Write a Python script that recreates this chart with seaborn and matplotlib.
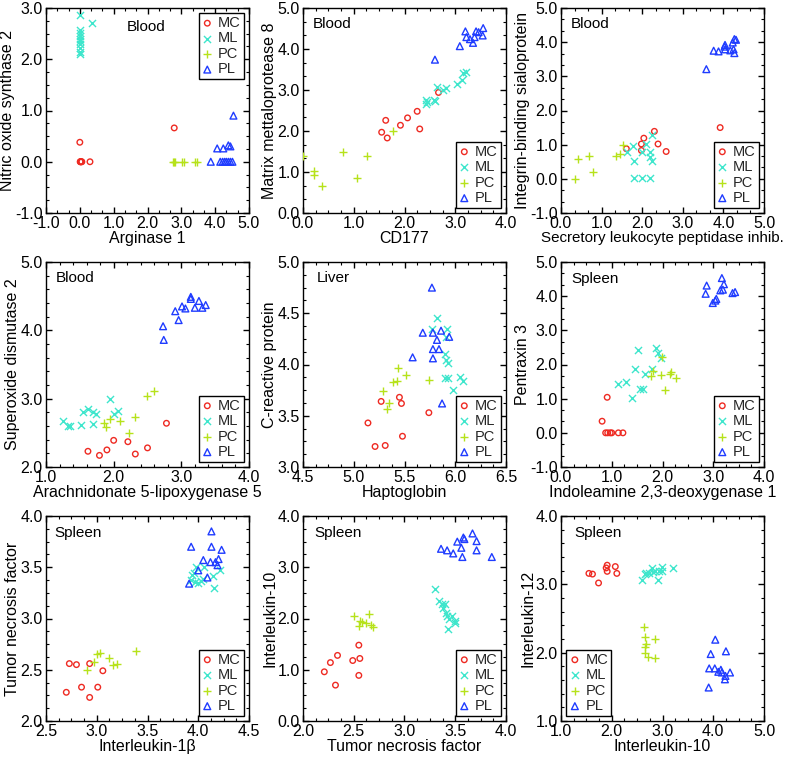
import numpy as np
import pandas as pd
import matplotlib
matplotlib.use("Agg")
import matplotlib.pyplot as plt
from matplotlib.ticker import MultipleLocator, AutoMinorLocator, FormatStrFormatter
import seaborn as sns

# ---------------- data ----------------
GROUPS = ["MC", "ML", "PC", "PL"]

# Panel 1: Arginase 1 vs Nitric oxide synthase 2 (Blood)
P1_MC_X = [0.0, 0.02, 0.04, 0.06, 0.03, 0.3, 2.79, 0.01]
P1_MC_Y = [0.38, 0.0, 0.0, 0.0, 0.0, 0.0, 0.66, 0.0]
P1_ML_X = [0.0, 0.0, 0.0, 0.0, 0.0, 0.0, 0.0, 0.0, 0.0, 0.0, 0.35]
P1_ML_Y = [2.86, 2.58, 2.52, 2.45, 2.4, 2.35, 2.3, 2.22, 2.15, 2.1, 2.71]
P1_PC_X = [2.76, 2.82, 3.03, 3.09, 3.41, 3.47, 2.79]
P1_PC_Y = [0.0, 0.0, 0.0, 0.0, 0.0, 0.0, 0.0]
P1_PL_X = [3.87, 4.15, 4.22, 4.28, 4.33, 4.39, 4.45, 4.51, 4.06, 4.24, 4.39, 4.45, 4.54]
P1_PL_Y = [0.0, 0.0, 0.0, 0.0, 0.0, 0.0, 0.0, 0.0, 0.26, 0.26, 0.32, 0.3, 0.9]

# Panel 2: CD177 vs Matrix metalloprotease 8 (Blood)
P2_MC_X = [1.55, 1.63, 1.66, 1.92, 2.06, 2.25, 2.3, 2.67]
P2_MC_Y = [1.97, 2.26, 1.83, 2.14, 2.32, 2.48, 2.05, 2.94]
P2_ML_X = [2.42, 2.42, 2.45, 2.59, 2.61, 2.64, 2.76, 2.82, 3.03, 3.13, 3.15, 3.22]
P2_ML_Y = [2.76, 2.67, 2.71, 2.76, 2.72, 3.07, 2.99, 3.05, 3.15, 3.25, 3.41, 3.43]
P2_PC_X = [0.0, 0.21, 0.21, 0.37, 0.78, 1.07, 1.27, 1.78]
P2_PC_Y = [1.4, 1.02, 0.93, 0.67, 1.5, 0.85, 1.38, 1.99]
P2_PL_X = [2.6, 3.09, 3.2, 3.22, 3.29, 3.35, 3.38, 3.41, 3.46, 3.54, 3.55]
P2_PL_Y = [3.74, 4.07, 4.43, 4.29, 4.24, 4.15, 4.29, 4.43, 4.41, 4.33, 4.51]

# Panel 3: SLPI vs Integrin-binding sialoprotein (Blood)
P3_MC_X = [1.61, 1.98, 1.98, 2.04, 2.3, 2.39, 2.59, 3.92]
P3_MC_Y = [0.88, 0.83, 1.02, 1.19, 1.39, 1.02, 0.8, 1.5]
P3_ML_X = [1.62, 1.78, 1.8, 1.8, 2.0, 2.0, 2.1, 2.18, 2.19, 2.19, 2.25, 2.23]
P3_ML_Y = [0.78, 0.95, 0.51, 0.02, 0.02, 0.8, 1.02, 0.8, 0.65, 0.02, 0.51, 1.29]
P3_PC_X = [0.34, 0.42, 0.7, 0.78, 1.35, 1.45, 1.52]
P3_PC_Y = [0.0, 0.59, 0.67, 0.2, 0.68, 0.73, 1.0]
P3_PL_X = [3.58, 3.76, 3.88, 4.03, 4.04, 4.04, 4.17, 4.23, 4.25, 4.27, 4.27, 4.31]
P3_PL_Y = [3.21, 3.75, 3.73, 3.87, 3.79, 3.92, 3.76, 3.99, 3.79, 3.68, 4.09, 4.07]

# Panel 4: ALOX5 vs Superoxide dismutase 2 (Blood)
P4_MC_X = [1.62, 1.79, 1.9, 2.0, 2.21, 2.32, 2.5, 2.78]
P4_MC_Y = [2.23, 2.17, 2.25, 2.39, 2.37, 2.19, 2.28, 2.64]
P4_ML_X = [1.25, 1.32, 1.35, 1.51, 1.55, 1.62, 1.69, 1.74, 1.7, 1.94, 2.0, 2.07]
P4_ML_Y = [2.67, 2.6, 2.6, 2.62, 2.8, 2.85, 2.8, 2.77, 2.63, 2.99, 2.78, 2.82]
P4_PC_X = [1.86, 1.89, 1.95, 2.09, 2.23, 2.32, 2.49, 2.6]
P4_PC_Y = [2.65, 2.58, 2.7, 2.68, 2.5, 2.73, 3.04, 3.11]
P4_PL_X = [2.73, 2.74, 2.91, 2.96, 3.01, 3.06, 3.14, 3.14, 3.2, 3.26, 3.31, 3.36]
P4_PL_Y = [4.06, 3.86, 4.28, 4.15, 4.35, 4.32, 4.49, 4.46, 4.33, 4.43, 4.33, 4.37]

# Panel 5: Haptoglobin vs C-reactive protein (Liver)
P5_MC_X = [5.14, 5.21, 5.27, 5.31, 5.45, 5.47, 5.48, 5.74]
P5_MC_Y = [3.43, 3.2, 3.64, 3.21, 3.68, 3.62, 3.3, 3.53]
P5_ML_X = [5.77, 5.82, 5.9, 5.91, 5.91, 5.92, 5.93, 5.9, 5.93, 5.98, 6.05, 6.08]
P5_ML_Y = [4.35, 4.45, 4.1, 4.04, 4.27, 4.35, 4.01, 3.87, 3.87, 3.75, 3.88, 3.84]
P5_PC_X = [5.29, 5.33, 5.35, 5.39, 5.43, 5.44, 5.51, 5.74]
P5_PC_Y = [3.74, 3.57, 3.62, 3.83, 3.84, 3.97, 3.9, 3.85]
P5_PL_X = [5.58, 5.68, 5.77, 5.78, 5.78, 5.78, 5.82, 5.84, 5.86, 5.87, 5.94]
P5_PL_Y = [4.07, 4.31, 4.75, 4.31, 4.15, 4.06, 4.24, 4.15, 4.33, 3.62, 4.27]

# Panel 6: IDO1 vs Pentraxin 3 (Spleen)
P6_MC_X = [0.81, 0.91, 0.88, 0.92, 0.97, 1.0, 1.13, 1.22]
P6_MC_Y = [0.34, 1.04, 0.0, 0.0, 0.0, 0.0, 0.0, 0.0]
P6_ML_X = [1.12, 1.28, 1.39, 1.45, 1.52, 1.55, 1.61, 1.65, 1.8, 1.87, 1.91, 1.98]
P6_ML_Y = [1.43, 1.48, 1.01, 1.87, 2.41, 1.29, 1.29, 1.73, 1.87, 2.48, 2.34, 2.19]
P6_PC_X = [1.78, 1.81, 1.98, 1.99, 2.04, 2.14, 2.17, 2.27]
P6_PC_Y = [1.66, 1.82, 1.68, 2.21, 1.26, 1.73, 1.78, 1.61]
P6_PL_X = [2.87, 2.85, 2.99, 3.04, 3.06, 3.14, 3.17, 3.19, 3.21, 3.38, 3.43]
P6_PL_Y = [4.31, 4.07, 3.8, 3.87, 3.92, 4.17, 4.53, 4.19, 4.35, 4.09, 4.12]

# Panel 7: IL-1beta vs TNF (Spleen)
P7_MC_X = [2.7, 2.73, 2.8, 2.85, 2.93, 2.93, 3.01, 3.06]
P7_MC_Y = [2.28, 2.56, 2.55, 2.33, 2.56, 2.23, 2.33, 2.49]
P7_ML_X = [3.93, 3.94, 3.96, 3.98, 4.0, 4.03, 4.05, 4.06, 4.15, 4.16, 4.21, 3.97]
P7_ML_Y = [3.38, 3.42, 3.44, 3.5, 3.35, 3.37, 3.39, 3.5, 3.41, 3.3, 3.47, 3.36]
P7_PC_X = [2.9, 2.97, 3.0, 3.03, 3.12, 3.16, 3.2, 3.39]
P7_PC_Y = [2.5, 2.58, 2.65, 2.66, 2.61, 2.55, 2.56, 2.68]
P7_PL_X = [3.91, 3.93, 4.0, 4.05, 4.09, 4.12, 4.13, 4.13, 4.17, 4.19, 4.2, 4.23]
P7_PL_Y = [3.34, 3.7, 3.47, 3.57, 3.4, 3.55, 3.85, 3.7, 3.55, 3.52, 3.58, 3.67]

# Panel 8: TNF vs IL-10 (Spleen)
P8_MC_X = [2.21, 2.27, 2.32, 2.34, 2.49, 2.55, 2.56, 2.55]
P8_MC_Y = [0.96, 1.14, 0.7, 1.28, 1.18, 1.48, 1.22, 0.89]
P8_ML_X = [3.3, 3.34, 3.37, 3.38, 3.4, 3.41, 3.42, 3.43, 3.44, 3.47, 3.5, 3.5]
P8_ML_Y = [2.57, 2.35, 2.28, 2.21, 2.29, 2.11, 2.05, 1.8, 1.99, 2.05, 1.95, 1.92]
P8_PC_X = [2.5, 2.55, 2.56, 2.58, 2.62, 2.65, 2.67, 2.69]
P8_PC_Y = [2.05, 1.85, 1.95, 1.93, 1.92, 2.09, 1.87, 1.84]
P8_PL_X = [3.36, 3.42, 3.48, 3.52, 3.56, 3.57, 3.58, 3.59, 3.67, 3.71, 3.71, 3.86]
P8_PL_Y = [3.36, 3.33, 3.27, 3.5, 3.38, 3.2, 3.58, 3.55, 3.66, 3.51, 3.33, 3.2]

# Panel 9: IL-10 vs IL-12 (Spleen)
P9_MC_X = [1.55, 1.62, 1.74, 1.89, 1.91, 1.91, 2.07, 2.1]
P9_MC_Y = [3.16, 3.15, 3.02, 3.24, 3.28, 3.19, 3.26, 3.16]
P9_ML_X = [2.59, 2.65, 2.68, 2.74, 2.8, 2.82, 2.86, 2.91, 2.94, 2.99, 2.99, 3.2]
P9_ML_Y = [3.06, 3.15, 3.16, 3.16, 3.24, 3.18, 3.2, 3.06, 3.19, 3.26, 3.2, 3.24]
P9_PC_X = [2.63, 2.65, 2.65, 2.66, 2.68, 2.71, 2.86, 2.85]
P9_PC_Y = [2.38, 2.23, 2.08, 2.0, 2.12, 1.93, 2.2, 1.92]
P9_PL_X = [3.91, 3.92, 3.95, 4.03, 4.04, 4.1, 4.15, 4.17, 4.23, 4.24, 4.25, 4.33]
P9_PL_Y = [1.49, 1.77, 1.98, 1.77, 2.19, 1.72, 1.75, 1.71, 1.61, 1.66, 2.02, 1.71]

X_LABELS = ["Arginase 1", "CD177", "Secretory leukocyte peptidase inhib.",
            "Arachnidonate 5-lipoxygenase 5", "Haptoglobin", "Indoleamine 2,3-deoxygenase 1",
            "Interleukin-1\u03b2", "Tumor necrosis factor", "Interleukin-10"]
Y_LABELS = ["Nitric oxide synthase 2", "Matrix mettaloprotease 8", "Integrin-binding sialoprotein",
            "Superoxide dismutase 2", "C-reactive protein", "Pentraxin 3",
            "Tumor necrosis factor", "Interleukin-10", "Interleukin-12"]
TISSUES = ["Blood", "Blood", "Blood", "Blood", "Liver", "Spleen", "Spleen", "Spleen", "Spleen"]

# ---------------- style ----------------
sns.set_theme(style="ticks")
plt.rcParams["font.family"] = ["Liberation Sans", "DejaVu Sans"]
plt.rcParams["axes.linewidth"] = 1.0
plt.rcParams["xtick.direction"] = "in"
plt.rcParams["ytick.direction"] = "in"

COLORS = {"MC": "#ee2a22", "ML": "#3ee6cc", "PC": "#b6e21a", "PL": "#1f3cff"}
MARKERS = {"MC": "o", "ML": "x", "PC": "+", "PL": "^"}
SIZES = {"MC": 16, "ML": 26, "PC": 30, "PL": 24}

panels = [
    (P1_MC_X, P1_MC_Y, P1_ML_X, P1_ML_Y, P1_PC_X, P1_PC_Y, P1_PL_X, P1_PL_Y),
    (P2_MC_X, P2_MC_Y, P2_ML_X, P2_ML_Y, P2_PC_X, P2_PC_Y, P2_PL_X, P2_PL_Y),
    (P3_MC_X, P3_MC_Y, P3_ML_X, P3_ML_Y, P3_PC_X, P3_PC_Y, P3_PL_X, P3_PL_Y),
    (P4_MC_X, P4_MC_Y, P4_ML_X, P4_ML_Y, P4_PC_X, P4_PC_Y, P4_PL_X, P4_PL_Y),
    (P5_MC_X, P5_MC_Y, P5_ML_X, P5_ML_Y, P5_PC_X, P5_PC_Y, P5_PL_X, P5_PL_Y),
    (P6_MC_X, P6_MC_Y, P6_ML_X, P6_ML_Y, P6_PC_X, P6_PC_Y, P6_PL_X, P6_PL_Y),
    (P7_MC_X, P7_MC_Y, P7_ML_X, P7_ML_Y, P7_PC_X, P7_PC_Y, P7_PL_X, P7_PL_Y),
    (P8_MC_X, P8_MC_Y, P8_ML_X, P8_ML_Y, P8_PC_X, P8_PC_Y, P8_PL_X, P8_PL_Y),
    (P9_MC_X, P9_MC_Y, P9_ML_X, P9_ML_Y, P9_PC_X, P9_PC_Y, P9_PL_X, P9_PL_Y),
]

# axis settings: (xlim, xmajor, xminor_n, ylim, ymajor, yminor_n)
AXES_CFG = [
    ((-1, 5), 1.0, 3, (-1, 3), 1.0, 4),
    ((0, 4), 1.0, 4, (0, 5), 1.0, 3),
    ((0, 5), 1.0, 3, (-1, 5), 1.0, 3),
    ((1, 4), 1.0, 5, (2, 5), 1.0, 5),
    ((4.5, 6.5), 0.5, 4, (3, 5), 0.5, 4),
    ((0, 4), 1.0, 4, (-1, 5), 1.0, 3),
    ((2.5, 4.5), 0.5, 4, (2, 4), 0.5, 4),
    ((2, 4), 0.5, 4, (0, 4), 1.0, 4),
    ((1, 5), 1.0, 4, (1, 4), 1.0, 5),
]
LEGEND_LOC = ["upper right"] + ["lower right"] * 7 + ["lower left"]
TEXT_POS = [(0.40, 0.89), (0.05, 0.90), (0.05, 0.90), (0.05, 0.90), (0.07, 0.90),
            (0.05, 0.90), (0.04, 0.90), (0.055, 0.90), (0.065, 0.90)]
XLABEL_FS = [11.5, 11.5, 10.9, 11.5, 11.5, 11.5, 11.5, 11.5, 11.5]

W, H = 792, 762
fig = plt.figure(figsize=(W / 100, H / 100), dpi=100)
lefts = [46, 303, 561]
tops = [8, 262, 516]
aw, ah = 203, 205

TICK_FS = 11.5
LABEL_FS = 11.5

for i, pdata in enumerate(panels):
    r, c = divmod(i, 3)
    ax = fig.add_axes([lefts[c] / W, 1 - (tops[r] + ah) / H, aw / W, ah / H])
    for gi, g in enumerate(GROUPS):
        df = pd.DataFrame({"x": pdata[2 * gi], "y": pdata[2 * gi + 1]})
        m = MARKERS[g]
        kw = dict(data=df, x="x", y="y", ax=ax, marker=m, s=SIZES[g],
                  color=COLORS[g], label=g, linewidth=1.0, legend=False, zorder=3)
        if m in ("o", "^"):
            kw.update(facecolor="none", edgecolor=COLORS[g])
        sns.scatterplot(**kw)
    xlim, xmaj, xn, ylim, ymaj, yn = AXES_CFG[i]
    ax.set_xlim(*xlim)
    ax.set_ylim(*ylim)
    ax.xaxis.set_major_locator(MultipleLocator(xmaj))
    ax.yaxis.set_major_locator(MultipleLocator(ymaj))
    ax.xaxis.set_minor_locator(AutoMinorLocator(xn))
    ax.yaxis.set_minor_locator(AutoMinorLocator(yn))
    ax.xaxis.set_major_formatter(FormatStrFormatter("%.1f"))
    ax.yaxis.set_major_formatter(FormatStrFormatter("%.1f"))
    ax.tick_params(which="both", direction="in", top=True, right=True, colors="black")
    ax.tick_params(which="major", length=4.5, width=1.0)
    ax.tick_params(which="minor", length=2.5, width=0.8)
    ax.tick_params(axis="x", which="major", labelsize=TICK_FS, pad=2)
    ax.tick_params(axis="y", which="major", labelsize=TICK_FS, pad=2.5)
    for sp in ax.spines.values():
        sp.set_color("black")
        sp.set_linewidth(1.0)
    ax.set_xlabel(X_LABELS[i], fontsize=XLABEL_FS[i], color="black", labelpad=0.3)
    ax.set_ylabel(Y_LABELS[i], fontsize=LABEL_FS, color="black", labelpad=0)
    tx, ty = TEXT_POS[i]
    ax.text(tx, ty, TISSUES[i], transform=ax.transAxes, fontsize=11,
            ha="left", va="baseline", color="black")
    leg = ax.legend(loc=LEGEND_LOC[i], fontsize=10.5, frameon=True, fancybox=False,
                    edgecolor="black", framealpha=1, borderpad=0.2,
                    labelspacing=0.1, handlelength=0.8, handletextpad=0.35,
                    borderaxespad=0.35)
    leg.get_frame().set_linewidth(1.0)

fig.savefig("out.png", dpi=100)
